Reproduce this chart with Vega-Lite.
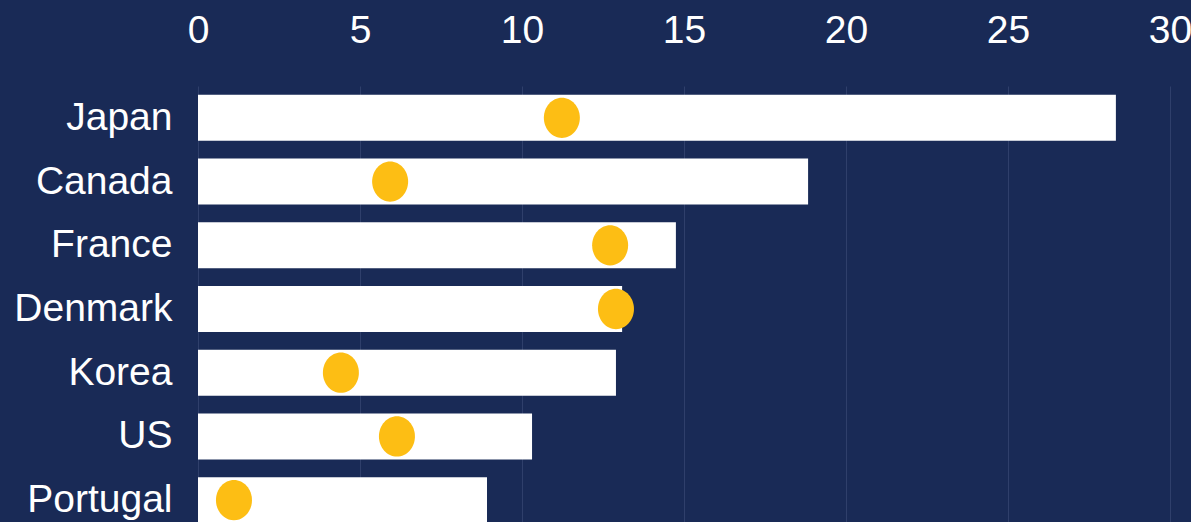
{
  "$schema": "https://vega.github.io/schema/vega-lite/v6.json",
  "autosize": {"type": "none"},
  "width": 972,
  "height": 446,
  "padding": {"left": 198, "top": 86, "right": 21, "bottom": 0},
  "background": "#192a56",
  "config": {
    "view": {"stroke": null},
    "font": "Liberation Sans",
    "axis": {"labelFont": "Liberation Sans", "labelColor": "#ffffff", "labelFontSize": 39, "domain": false, "ticks": false, "tickSize": 0, "title": null}
  },
  "data": {
    "values": [
      {"country": "Japan", "bar": 28.33, "dot": 11.23},
      {"country": "Canada", "bar": 18.83, "dot": 5.93},
      {"country": "France", "bar": 14.75, "dot": 12.72},
      {"country": "Denmark", "bar": 13.09, "dot": 12.9},
      {"country": "Korea", "bar": 12.9, "dot": 4.41},
      {"country": "US", "bar": 10.31, "dot": 6.14},
      {"country": "Portugal", "bar": 8.92, "dot": 1.11}
    ]
  },
  "encoding": {
    "y": {
      "field": "country",
      "type": "nominal",
      "sort": null,
      "scale": {"paddingInner": 0.278, "paddingOuter": 0.139},
      "axis": {"labelPadding": 26, "grid": false, "labelLimit": 300}
    }
  },
  "layer": [
    {
      "mark": {"type": "bar", "color": "#ffffff"},
      "encoding": {
        "x": {
          "field": "bar",
          "type": "quantitative",
          "scale": {"domain": [0, 30], "nice": false},
          "axis": {
            "orient": "top",
            "values": [0, 5, 10, 15, 20, 25, 30],
            "grid": true,
            "gridColor": "#2f3f6b",
            "gridWidth": 1,
            "labelBaseline": "alphabetic",
            "labelPadding": 44,
            "labelFlush": false
          }
        }
      }
    },
    {
      "mark": {"type": "point", "filled": true, "opacity": 1, "color": "#fdbe14", "size": 1296, "shape": "M -1,0 A 1,1.12 0 1,1 1,0 A 1,1.12 0 1,1 -1,0 Z"},
      "encoding": {
        "x": {"field": "dot", "type": "quantitative"}
      }
    }
  ]
}
